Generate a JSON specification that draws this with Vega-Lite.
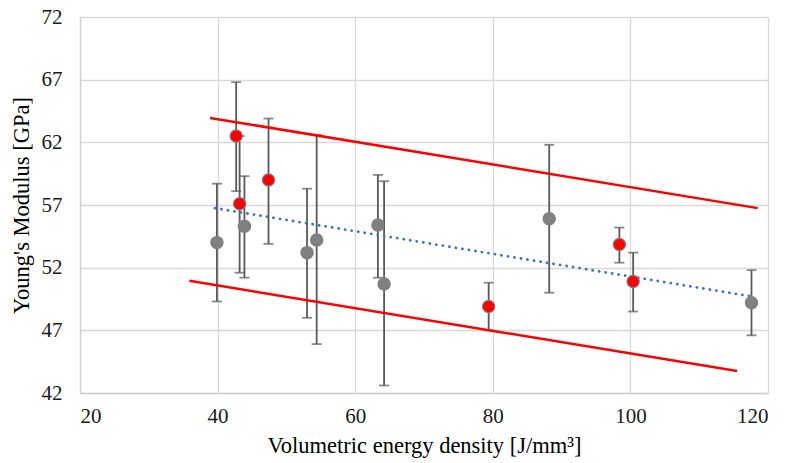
{
  "$schema": "https://vega.github.io/schema/vega-lite/v6.json",
  "width": 688,
  "height": 376,
  "autosize": "none",
  "padding": {"left": 80, "top": 17, "right": 19, "bottom": 70},
  "background": "white",
  "config": {
    "view": {"stroke": null},
    "axis": {
      "labelFont": "Liberation Serif",
      "titleFont": "Liberation Serif",
      "labelFontSize": 21,
      "titleFontSize": 22.5,
      "labelColor": "#1a1a1a",
      "titleColor": "#000000",
      "titleFontWeight": "normal",
      "gridColor": "#d9d9d9",
      "gridWidth": 1.3,
      "domainColor": "#d0d0d0",
      "domainWidth": 1.3,
      "ticks": false
    }
  },
  "datasets": {
    "pts": [
      {"x": 39.9, "y": 54.0, "lo": 49.3, "hi": 58.7, "grp": "gray"},
      {"x": 42.7, "y": 62.5, "lo": 58.1, "hi": 66.8, "grp": "red"},
      {"x": 43.2, "y": 57.1, "lo": 51.6, "hi": 62.5, "grp": "red"},
      {"x": 43.9, "y": 55.3, "lo": 51.2, "hi": 59.3, "grp": "gray"},
      {"x": 47.4, "y": 59.0, "lo": 53.9, "hi": 63.9, "grp": "red"},
      {"x": 53.0, "y": 53.2, "lo": 48.0, "hi": 58.3, "grp": "gray"},
      {"x": 54.4, "y": 54.2, "lo": 45.9, "hi": 62.6, "grp": "gray"},
      {"x": 63.3, "y": 55.4, "lo": 51.2, "hi": 59.4, "grp": "gray"},
      {"x": 64.2, "y": 50.7, "lo": 42.6, "hi": 58.9, "grp": "gray"},
      {"x": 79.4, "y": 48.9, "lo": 47.0, "hi": 50.8, "grp": "red"},
      {"x": 88.2, "y": 55.9, "lo": 50.0, "hi": 61.8, "grp": "gray"},
      {"x": 98.4, "y": 53.85, "lo": 52.4, "hi": 55.2, "grp": "red"},
      {"x": 100.4, "y": 50.9, "lo": 48.5, "hi": 53.2, "grp": "red"},
      {"x": 117.6, "y": 49.2, "lo": 46.6, "hi": 51.8, "grp": "gray"}
    ],
    "lines": [
      {"line": "trend", "x": 39.6, "y": 56.75},
      {"line": "trend", "x": 117.7, "y": 49.7},
      {"line": "upper", "x": 38.9, "y": 63.95},
      {"line": "upper", "x": 118.5, "y": 56.75},
      {"line": "lower", "x": 35.9, "y": 50.95},
      {"line": "lower", "x": 115.5, "y": 43.75}
    ]
  },
  "encoding": {
    "x": {
      "field": "x", "type": "quantitative",
      "scale": {"domain": [20, 120], "nice": false, "zero": false},
      "axis": {"values": [20, 40, 60, 80, 100, 120], "title": "Volumetric energy density [J/mm³]", "labelPadding": 12, "titlePadding": 8}
    },
    "y": {
      "field": "y", "type": "quantitative",
      "scale": {"domain": [42, 72], "nice": false, "zero": false},
      "axis": {"values": [42, 47, 52, 57, 62, 67, 72], "title": "Young's Modulus [GPa]", "labelPadding": 18, "titlePadding": 8}
    }
  },
  "layer": [
    {
      "data": {"name": "pts"},
      "mark": {"type": "rule", "color": "#595959", "strokeWidth": 1.8},
      "encoding": {
        "y": {"field": "lo", "type": "quantitative"},
        "y2": {"field": "hi"}
      }
    },
    {
      "data": {"name": "pts"},
      "mark": {"type": "tick", "orient": "horizontal", "color": "#595959", "size": 10, "thickness": 1.8},
      "encoding": {"y": {"field": "lo", "type": "quantitative"}}
    },
    {
      "data": {"name": "pts"},
      "mark": {"type": "tick", "orient": "horizontal", "color": "#595959", "size": 10, "thickness": 1.8},
      "encoding": {"y": {"field": "hi", "type": "quantitative"}}
    },
    {
      "data": {"name": "lines"},
      "transform": [{"filter": "datum.line !== 'trend'"}],
      "mark": {"type": "line", "color": "#ff0000", "strokeWidth": 2.5},
      "encoding": {"detail": {"field": "line"}}
    },
    {
      "data": {"name": "lines"},
      "transform": [{"filter": "datum.line === 'trend'"}],
      "mark": {"type": "line", "color": "#4472c4", "strokeWidth": 2.8, "strokeDash": [0.1, 6.5], "strokeCap": "round"},
      "encoding": {}
    },
    {
      "data": {"name": "pts"},
      "mark": {"type": "circle", "opacity": 1, "size": 150, "stroke": "#7f7f7f", "strokeWidth": 1.2},
      "encoding": {
        "color": {
          "field": "grp", "type": "nominal",
          "scale": {"domain": ["gray", "red"], "range": ["#808080", "#ff0000"]},
          "legend": null
        }
      }
    }
  ]
}
